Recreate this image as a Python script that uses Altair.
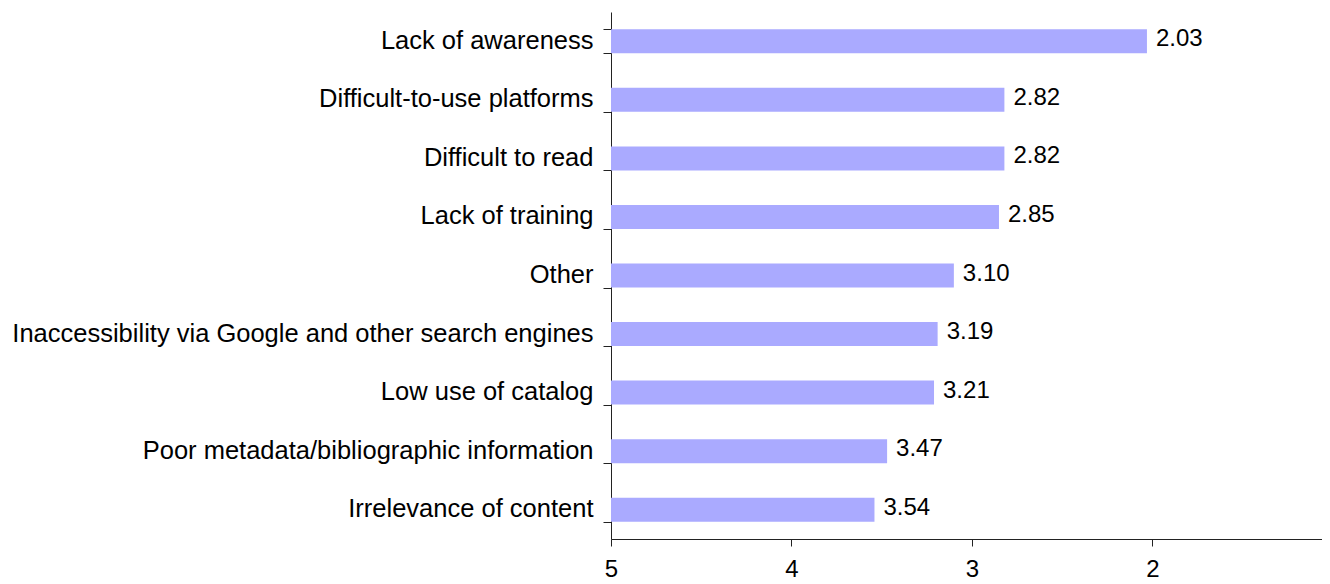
import altair as alt
import pandas as pd

categories = [
    "Lack of awareness",
    "Difficult-to-use platforms",
    "Difficult to read",
    "Lack of training",
    "Other",
    "Inaccessibility via Google and other search engines",
    "Low use of catalog",
    "Poor metadata/bibliographic information",
    "Irrelevance of content ",
]
values = [2.03, 2.82, 2.82, 2.85, 3.10, 3.19, 3.21, 3.47, 3.54]
x_ticks = [5, 4, 3, 2]

df = pd.DataFrame({"category": categories, "value": values})
FONT = "Liberation Sans"

y_enc = alt.Y(
    "category:N",
    sort=categories,
    scale=alt.Scale(paddingInner=0.59, paddingOuter=0.295),
    axis=alt.Axis(
        title=None, tickBand="extent", tickSize=8, labelPadding=10,
        labelFontSize=25.5, labelFont=FONT, labelColor="black",
        labelLimit=0, domainColor="#222222", tickColor="#222222",
        domainWidth=1, tickWidth=1, labelBaseline="middle", labelOffset=-1,
    ),
)
x_scale = alt.Scale(domain=[5, 1.06], nice=False, zero=False)

base = alt.Chart(df).transform_calculate(start="5")

bars = base.mark_bar(color="#aaaaff").encode(
    x=alt.X(
        "value:Q", scale=x_scale,
        axis=alt.Axis(
            title=None, values=x_ticks, format="d", grid=False, labelFlush=False,
            tickSize=7, labelPadding=11, labelFontSize=24, labelFont=FONT,
            labelColor="black", domainColor="#222222", tickColor="#222222",
        ),
    ),
    x2="start:Q",
    y=y_enc,
)

labels = base.mark_text(
    align="left", baseline="middle", dx=9, dy=-2, fontSize=24, font=FONT, color="black"
).encode(
    x=alt.X("value:Q", scale=x_scale),
    y=alt.Y("category:N", sort=categories),
    text=alt.Text("value:Q", format=".2f"),
)

chart = (
    alt.layer(bars, labels)
    .properties(
        width=711, height=527,
        autosize=alt.AutoSizeParams(type="none"),
        padding={"left": 603, "top": 4, "right": 0, "bottom": 44},
    )
    .configure_view(stroke=None)
)

chart.save("out.html", embed_options={"renderer": "svg", "actions": False})
